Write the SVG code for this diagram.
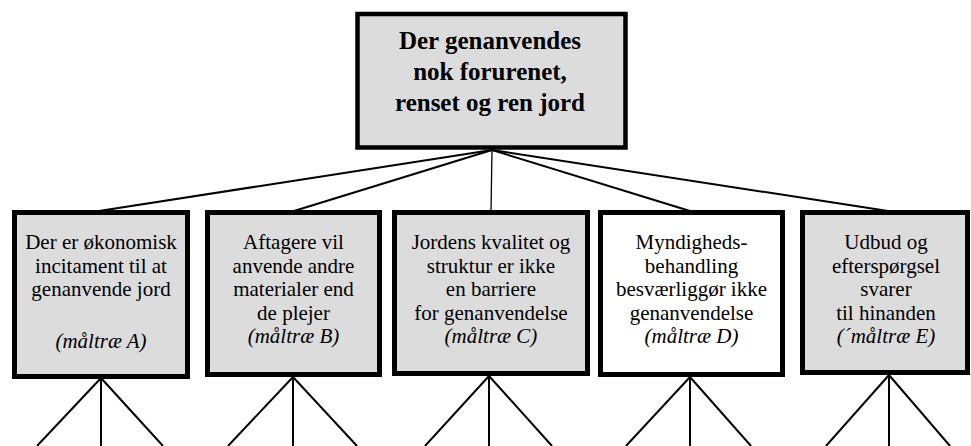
<svg xmlns="http://www.w3.org/2000/svg" width="971" height="446" viewBox="0 0 971 446">
  <style>
    .box { fill: #dcdcdc; stroke: #000; stroke-width: 5; }
    .box.white { fill: #fff; }
    .t { font-family: 'Liberation Serif', 'Times New Roman', serif; font-size: 21px; fill: #000; text-anchor: middle; }
    .tb { font-family: 'Liberation Serif', 'Times New Roman', serif; font-size: 25px; font-weight: bold; fill: #000; text-anchor: middle; }
    .it { font-style: italic; }
    .link { stroke: #000; stroke-width: 2; fill: none; }
    .thin { stroke-width: 1.3; }
  </style>
  <rect width="971" height="446" fill="#fff"/>

  <g id="connectors">
    <!-- goal to sub-goals -->
    <line class="link" x1="492" y1="150" x2="99" y2="211"/>
    <line class="link" x1="492" y1="150" x2="294" y2="211"/>
    <line class="link thin" x1="492" y1="150" x2="491" y2="211"/>
    <line class="link" x1="492" y1="150" x2="690" y2="211"/>
    <line class="link" x1="492" y1="150" x2="888" y2="211"/>
    <!-- sub-goal fan-outs -->
    <line class="link" x1="101" y1="378" x2="37" y2="446"/>
    <line class="link" x1="101" y1="378" x2="101" y2="446"/>
    <line class="link" x1="101" y1="378" x2="163" y2="446"/>
    <line class="link" x1="293" y1="377" x2="228" y2="446"/>
    <line class="link" x1="293" y1="377" x2="293" y2="446"/>
    <line class="link" x1="293" y1="377" x2="357" y2="446"/>
    <line class="link" x1="489" y1="376" x2="425" y2="446"/>
    <line class="link" x1="489" y1="376" x2="489" y2="446"/>
    <line class="link" x1="489" y1="376" x2="552" y2="446"/>
    <line class="link" x1="690" y1="377" x2="626" y2="446"/>
    <line class="link" x1="690" y1="377" x2="690" y2="446"/>
    <line class="link" x1="690" y1="377" x2="751" y2="446"/>
    <line class="link" x1="889" y1="375" x2="826" y2="446"/>
    <line class="link" x1="889" y1="375" x2="889" y2="446"/>
    <line class="link" x1="889" y1="375" x2="950" y2="446"/>
  </g>

  <g id="goal">
    <rect class="box" x="357.5" y="14" width="268" height="133.5" style="stroke-width:4.5"/>
    <text class="tb" x="490" y="49">Der genanvendes</text>
    <text class="tb" x="490" y="80">nok forurenet,</text>
    <text class="tb" x="490" y="111">renset og ren jord</text>
  </g>

  <g id="goal-a">
    <rect class="box" x="14.5" y="212.5" width="173" height="164"/>
    <text class="t" x="101" y="249">Der er økonomisk</text>
    <text class="t" x="101" y="272.5">incitament til at</text>
    <text class="t" x="101" y="296">genanvende jord</text>
    <text class="t it" x="101" y="348">(måltræ A)</text>
  </g>

  <g id="goal-b">
    <rect class="box" x="207.5" y="212.5" width="172" height="162"/>
    <text class="t" x="293.5" y="249">Aftagere vil</text>
    <text class="t" x="293.5" y="272.5">anvende andre</text>
    <text class="t" x="293.5" y="296">materialer end</text>
    <text class="t" x="293.5" y="319.5">de plejer</text>
    <text class="t it" x="293.5" y="343">(måltræ B)</text>
  </g>

  <g id="goal-c">
    <rect class="box" x="394.5" y="212.5" width="193" height="161"/>
    <text class="t" x="491" y="249">Jordens kvalitet og</text>
    <text class="t" x="491" y="272.5">struktur er ikke</text>
    <text class="t" x="491" y="296">en barriere</text>
    <text class="t" x="491" y="319.5">for genanvendelse</text>
    <text class="t it" x="491" y="343">(måltræ C)</text>
  </g>

  <g id="goal-d">
    <rect class="box white" x="600.5" y="212.5" width="182" height="162"/>
    <text class="t" x="691.5" y="249">Myndigheds-</text>
    <text class="t" x="691.5" y="272.5">behandling</text>
    <text class="t" x="691.5" y="296">besværliggør ikke</text>
    <text class="t" x="691.5" y="319.5">genanvendelse</text>
    <text class="t it" x="691.5" y="343">(måltræ D)</text>
  </g>

  <g id="goal-e">
    <rect class="box" x="802.5" y="212.5" width="165" height="160"/>
    <text class="t" x="886" y="249">Udbud og</text>
    <text class="t" x="886" y="272.5">efterspørgsel</text>
    <text class="t" x="886" y="296">svarer</text>
    <text class="t" x="886" y="319.5">til hinanden</text>
    <text class="t it" x="886" y="343">(´måltræ E)</text>
  </g>
</svg>
